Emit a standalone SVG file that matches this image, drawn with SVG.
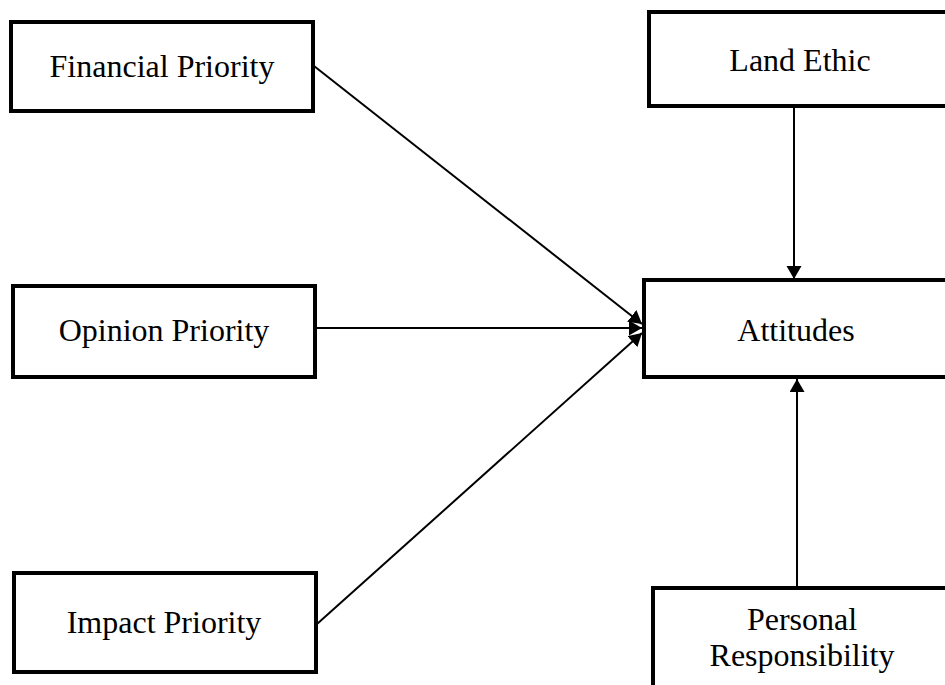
<svg xmlns="http://www.w3.org/2000/svg" width="945" height="685" viewBox="0 0 945 685">
<style>
.box{fill:#fff;stroke:#000;stroke-width:4}
.lbl{font-family:"Liberation Serif","Times New Roman",serif;font-size:32px;fill:#000;text-anchor:middle}
.con{stroke:#000;stroke-width:2;fill:none;marker-end:url(#ah)}
</style>
<defs>
<marker id="ah" markerUnits="userSpaceOnUse" markerWidth="14" markerHeight="16" refX="13" refY="7.5" orient="auto">
<path d="M0,0 L13,7.5 L0,15 Z" fill="#000"/>
</marker>
</defs>
<rect width="945" height="685" fill="#fff"/>
<g id="connectors">
<line class="con" x1="314" y1="66" x2="642" y2="324"/>
<line class="con" x1="316" y1="328" x2="642" y2="328"/>
<line class="con" x1="317" y1="624" x2="642" y2="333"/>
<line class="con" x1="794" y1="107" x2="794" y2="279"/>
<line class="con" x1="797" y1="587" x2="797" y2="379"/>
</g>
<g id="financial">
<rect class="box" x="11" y="22" width="302" height="89"/>
<text class="lbl" x="162" y="77">Financial Priority</text>
</g>
<g id="opinion">
<rect class="box" x="13" y="286" width="302" height="91"/>
<text class="lbl" x="164" y="341">Opinion Priority</text>
</g>
<g id="impact">
<rect class="box" x="14" y="573" width="302" height="99"/>
<text class="lbl" x="164" y="633">Impact Priority</text>
</g>
<g id="landethic">
<rect class="box" x="649" y="12" width="305" height="94"/>
<text class="lbl" x="800" y="71">Land Ethic</text>
</g>
<g id="attitudes">
<rect class="box" x="644" y="280" width="305" height="97"/>
<text class="lbl" x="796" y="341">Attitudes</text>
</g>
<g id="personal">
<rect class="box" x="653" y="588" width="305" height="110"/>
<text class="lbl" x="802" y="630">Personal</text>
<text class="lbl" x="802" y="666">Responsibility</text>
</g>
</svg>
